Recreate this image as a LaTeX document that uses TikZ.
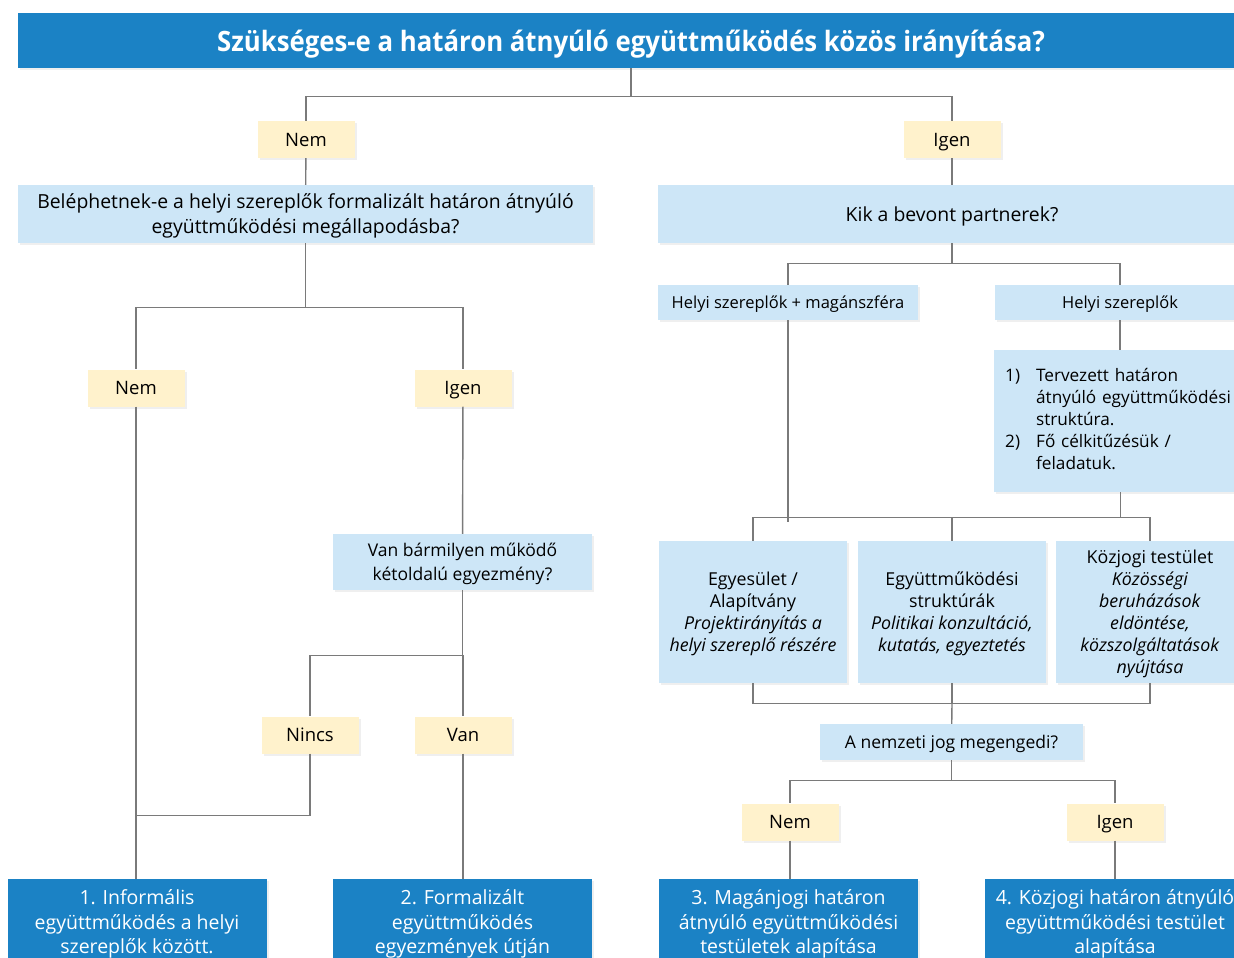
\documentclass[tikz,border=0pt]{standalone}
\usepackage{fontspec}
\setmainfont{Open Sans}
\newfontfamily\titlefont{Open Sans}[FakeStretch=0.92]
\usetikzlibrary{positioning,shadows}
\definecolor{titleblue}{HTML}{1B82C5}
\definecolor{qblue}{HTML}{CDE6F7}
\definecolor{answer}{HTML}{FFF2CC}
\definecolor{wiregray}{HTML}{7A7A7A}

\tikzset{
  box/.style={inner sep=0pt, align=center, text depth=0pt,
    drop shadow={opacity=0.13, shadow xshift=2pt, shadow yshift=-2pt}},
  question/.style={box, fill=qblue, font=\fontsize{17.5}{24.5}\selectfont},
  bigquestion/.style={question, minimum height=58pt, font=\fontsize{19.4}{25}\selectfont},
  choice/.style={box, fill=answer, minimum width=97pt, minimum height=37pt,
    font=\fontsize{18.5}{22}\selectfont},
  partner/.style={question, minimum height=35pt, font=\fontsize{16.5}{22}\selectfont},
  option/.style={box, fill=qblue, minimum width=188pt, minimum height=142pt,
    font=\fontsize{17.8}{22}\selectfont},
  result/.style={box, fill=titleblue, text=white, minimum width=259pt,
    minimum height=86pt, font=\fontsize{19.5}{24.5}\selectfont},
  wire/.style={draw=wiregray, line width=1.4pt}
}

\begin{document}
\begin{tikzpicture}[x=1pt, y=-1pt]
  \useasboundingbox (0,0) rectangle (1234,958);

  % title
  \node[box, fill=titleblue, text=white, minimum width=1226pt, minimum height=55pt,
    font=\titlefont\bfseries\fontsize{28}{32}\selectfont] (title) at (631,40.5)
    {Szükséges-e a határon átnyúló együttműködés közös irányítása?};

  % first answer level
  \node[choice] (nem1) at (306,139.5) {Nem};
  \node[choice] (igen1) at (952,139.5) {Igen};
  \node[bigquestion, minimum width=575pt] (q1) at (305.5,214)
    {Beléphetnek-e a helyi szereplők formalizált határon átnyúló\\együttműködési megállapodásba?};
  \node[bigquestion, minimum width=588pt] (q2) at (952,214)
    {Kik a bevont partnerek?};

  % left branch
  \node[choice] (nem2) at (136,388) {Nem};
  \node[choice] (igen2) at (463,388) {Igen};
  \node[question, minimum width=259pt, minimum height=56pt] (q3) at (462.5,562)
    {Van bármilyen működő\\kétoldalú egyezmény?};
  \node[choice] (nincs) at (310,735) {Nincs};
  \node[choice] (van) at (463,735) {Van};

  % right branch
  \node[partner, minimum width=260pt] (hm) at (788,302.5) {Helyi szereplők + magánszféra};
  \node[partner, minimum width=250pt] (hs) at (1120,302.5) {Helyi szereplők};
  \node[question, anchor=west, text width=230pt, text depth=, minimum height=142pt,
    inner xsep=11pt, align=left, font=\fontsize{17.2}{22}\selectfont] (list) at (994,421)
    {\begin{tabular}{@{}l@{\hspace{16pt}}l@{}}
      1) & Tervezett határon\\
         & átnyúló együttműködési\\
         & struktúra.\\
      2) & Fő célkitűzésük /\\
         & feladatuk.
    \end{tabular}};

  \node[option] (egy) at (753,612)
    {Egyesület /\\Alapítvány\\\textit{Projektirányítás a}\\\textit{helyi szereplő részére}};
  \node[option] (egy2) at (952,612)
    {Együttműködési\\struktúrák\\\textit{Politikai konzultáció,}\\\textit{kutatás, egyeztetés}};
  \node[option] (koz) at (1150,612)
    {Közjogi testület\\\textit{Közösségi}\\\textit{beruházások}\\\textit{eldöntése,}\\\textit{közszolgáltatások}\\\textit{nyújtása}};

  \node[question, minimum width=263pt, minimum height=36pt] (nj) at (951.5,742)
    {A nemzeti jog megengedi?};
  \node[choice] (nem3) at (790,822) {Nem};
  \node[choice] (igen3) at (1115,822) {Igen};

  % results
  \node[result] (res1) at (137,922) {1. Informális\\együttműködés a helyi\\szereplők között.};
  \node[result] (res2) at (462.5,922) {2. Formalizált\\együttműködés\\egyezmények útján};
  \node[result] (res3) at (788.5,922) {3. Magánjogi határon\\átnyúló együttműködési\\testületek alapítása};
  \node[result, minimum width=260pt] (res4) at (1115,922) {4. Közjogi határon átnyúló\\együttműködési testület\\alapítása};

  % connectors
  \draw[wire] (title.south) -- ++(0,28) coordinate (t1);
  \draw[wire] (t1) -| (nem1);
  \draw[wire] (t1) -| (igen1);
  \draw[wire] (nem1) -- (q1);
  \draw[wire] (igen1) -- (q2);

  \draw[wire] (q1.south) -- ++(0,64) coordinate (t2);
  \draw[wire] (t2) -| (nem2);
  \draw[wire] (t2) -| (igen2);
  \draw[wire] (nem2.south) -- (nem2.south |- res1.north);
  \draw[wire] (igen2) -- (q3);
  \draw[wire] (q3.south) -- ++(0,65) coordinate (t3);
  \draw[wire] (t3) -| (nincs);
  \draw[wire] (t3) -| (van);
  \draw[wire] (nincs.south) -- ++(0,62) coordinate (t4) -- (t4 -| nem2.south);
  \draw[wire] (van) -- (van.south |- res2.north);

  \draw[wire] (q2.south) -- ++(0,20) coordinate (t5);
  \draw[wire] (t5) -| (hm);
  \draw[wire] (t5) -| (hs);
  \draw[wire] (hm.south) -- ++(0,202);
  \draw[wire] (hs) -- (hs |- list.north);
  \draw[wire] (list.south) -- ++(0,25) coordinate (t6);
  \draw[wire] (egy.north) |- (t6) -| (koz.north);
  \draw[wire] (egy2.north) -- (egy2.north |- t6);

  \draw[wire] (egy2.south) -- ++(0,20) coordinate (t7);
  \draw[wire] (egy.south) |- (t7) -| (koz.south);
  \draw[wire] (t7) -- (nj);
  \draw[wire] (nj.south) -- ++(0,20) coordinate (t8);
  \draw[wire] (t8) -| (nem3);
  \draw[wire] (t8) -| (igen3);
  \draw[wire] (nem3.south) -- (nem3.south |- res3.north);
  \draw[wire] (igen3) -- (igen3 |- res4.north);
\end{tikzpicture}
\end{document}
